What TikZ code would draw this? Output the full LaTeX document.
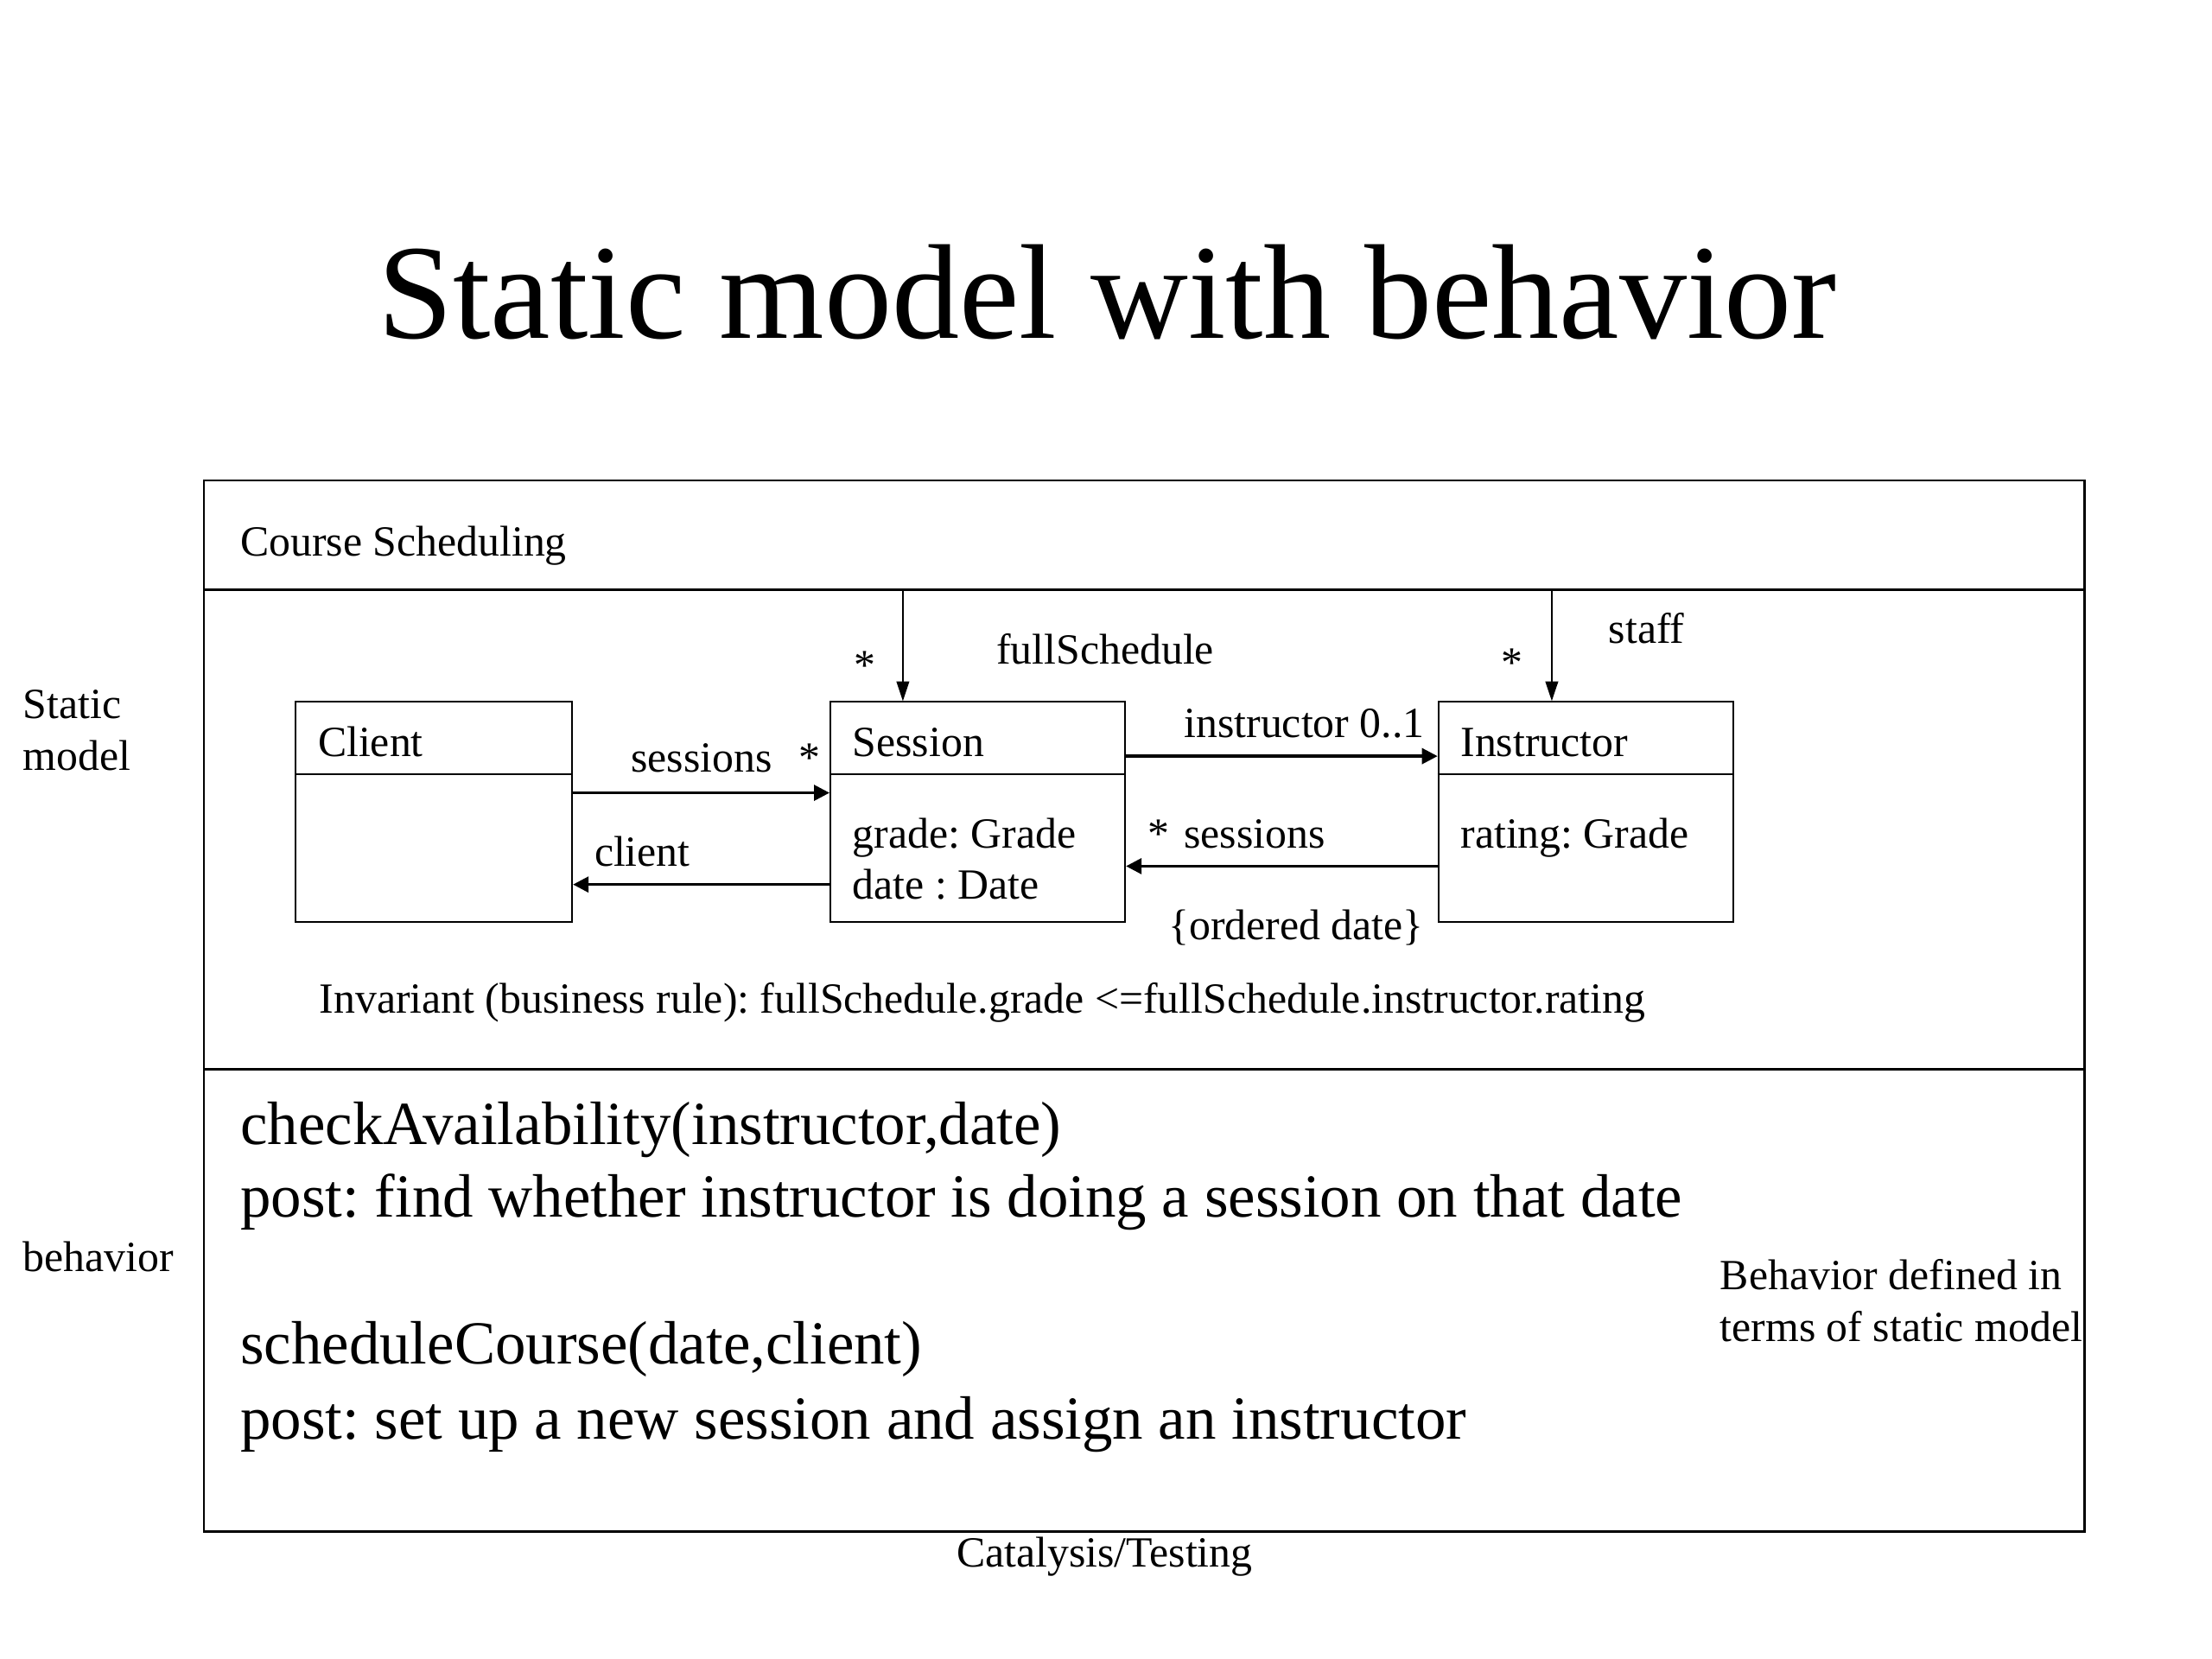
\documentclass[tikz,border=0pt]{standalone}
\usepackage{fontspec}
\setmainfont{Liberation Serif}
\usetikzlibrary{arrows.meta}
\frenchspacing
\begin{document}
\begin{tikzpicture}[x=0.5pt,y=-0.5pt,
  txt/.style={inner sep=0pt, anchor=base west, font=\fontsize{15.25}{18}\selectfont},
  big/.style={inner sep=0pt, anchor=base west, font=\fontsize{21.7}{26}\selectfont},
  frm/.style={draw, line width=0.7pt},
  cls/.style={draw, line width=0.6pt, inner sep=0pt, anchor=north west, minimum height=78pt},
  assoc/.style={line width=1pt, -{Triangle[length=5.5pt,width=5.5pt]}},
  nav/.style={line width=0.6pt, -{Triangle[length=7pt,width=4.5pt]}}]
\useasboundingbox (0,0) rectangle (1568,1176);
% title
\node[inner sep=0pt, anchor=base, font=\fontsize{47.85}{56}\selectfont] (title) at (785,240) {Static model with behavior};
% outer frame
\node[frm, inner sep=0pt, anchor=north west, minimum width=666.5pt, minimum height=372.5pt] (frame) at (144,340) {};
\coordinate (h1) at (144,418);
\coordinate (h2) at (144,758);
\draw[frm] (h1) -- (h1 -| frame.east);
\draw[frm] (h2) -- (h2 -| frame.east);
\node[txt] (course) at (170,394) {Course Scheduling};
% side labels
\node[txt] (static) at (16,509) {Static};
\node[txt] (model) at (16,546) {model};
\node[txt] (behav) at (16,901) {behavior};
% classes
\node[cls, minimum width=98pt] (client) at (209,497) {};
\node[cls, minimum width=104.5pt] (session) at (588,497) {};
\node[cls, minimum width=104.5pt] (instructor) at (1019,497) {};
\foreach \c in {client,session,instructor}{
  \draw[line width=0.6pt] ([yshift=-26pt]\c.north west) -- ([yshift=-26pt]\c.north east);
}
\node[txt] (clientname) at (225,536) {Client};
\node[txt] (sessionname) at (604,536) {Session};
\node[txt] (grade) at (604,601) {grade: Grade};
\node[txt] (date) at (604,637) {date : Date};
\node[txt] (instrname) at (1035,536) {Instructor};
\node[txt] (rating) at (1035,601) {rating: Grade};
% associations
\draw[assoc] ([yshift=-32.5pt]client.north east) -- ([yshift=-32.5pt]client.north east -| session.west);
\draw[assoc] ([yshift=-65pt]session.north west) -- ([yshift=-65pt]session.north west -| client.east);
\draw[assoc] ([yshift=-19.5pt]session.north east) -- ([yshift=-19.5pt]session.north east -| instructor.west);
\draw[assoc] ([yshift=-58.5pt]instructor.north west) -- ([yshift=-58.5pt]instructor.north west -| session.east);
\node[txt] (lsessions) at (447,547) {sessions};
\node[txt] (lstar1) at (566,547) {*};
\node[txt] (lclient) at (421,614) {client};
\node[txt] (linstr) at (839,523) {instructor 0..1};
\node[txt] (lsess2) at (813,601) {*\hspace{0.35em}sessions};
\node[txt] (lorder) at (828,666) {\{ordered date\}};
% navigation from package
\coordinate (fs) at (640,418);
\coordinate (st) at (1100,418);
\draw[nav] (fs) -- (fs |- session.north);
\draw[nav] (st) -- (st |- instructor.north);
\node[txt] (lstar2) at (605,482) {*};
\node[txt] (lfull) at (706,471) {fullSchedule};
\node[txt] (lstar3) at (1064,480) {*};
\node[txt] (lstaff) at (1140,456) {staff};
\node[txt] (inv) at (226,718) {Invariant (business rule): fullSchedule.grade <=fullSchedule.instructor.rating};
% behavior
\node[big] (b1) at (170,811) {checkAvailability(instructor,date)};
\node[big] (b2) at (170,863) {post: find whether instructor is doing a session on that date};
\node[big] (b3) at (170,967) {scheduleCourse(date,client)};
\node[big] (b4) at (170,1020) {post: set up a new session and assign an instructor};
\node[txt] (n1) at (1219,914) {Behavior defined in};
\node[txt] (n2) at (1219,951) {terms of static model};
\node[inner sep=0pt, anchor=base, font=\fontsize{15.25}{18}\selectfont] (foot) at (783,1111) {Catalysis/Testing};
\end{tikzpicture}
\end{document}
